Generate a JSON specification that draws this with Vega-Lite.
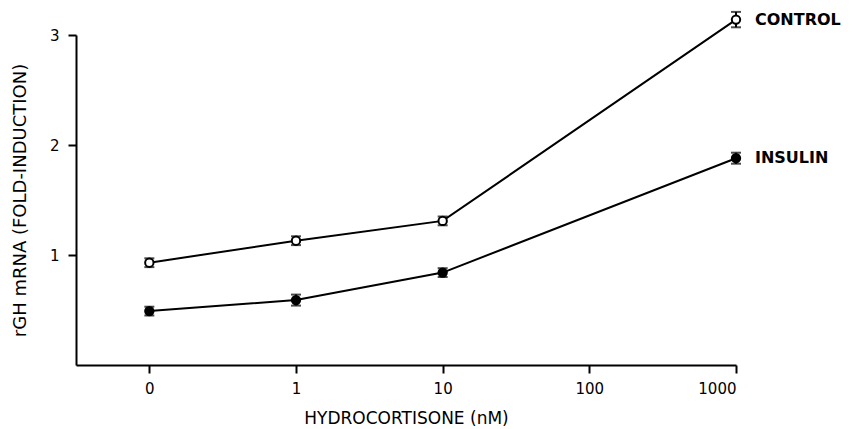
{
  "$schema": "https://vega.github.io/schema/vega-lite/v6.json",
  "width": 660,
  "height": 330,
  "autosize": {"type": "none"},
  "padding": {"left": 76, "top": 35, "right": 125, "bottom": 64},
  "background": "white",
  "config": {
    "view": {"stroke": null},
    "font": "DejaVu Sans",
    "axis": {
      "grid": false,
      "domainColor": "black",
      "domainWidth": 2,
      "tickColor": "black",
      "tickWidth": 2,
      "tickSize": 8,
      "labelColor": "black",
      "labelFont": "DejaVu Sans",
      "labelFontSize": 15,
      "titleColor": "black",
      "titleFont": "DejaVu Sans",
      "titleFontSize": 17,
      "titleFontWeight": "normal"
    }
  },
  "data": {
    "values": [
      {"group": "CONTROL", "idx": 0, "v": 0.93, "lo": 0.89, "hi": 0.97},
      {"group": "CONTROL", "idx": 1, "v": 1.13, "lo": 1.09, "hi": 1.17},
      {"group": "CONTROL", "idx": 2, "v": 1.31, "lo": 1.27, "hi": 1.35},
      {"group": "CONTROL", "idx": 4, "v": 3.14, "lo": 3.07, "hi": 3.21},
      {"group": "INSULIN", "idx": 0, "v": 0.49, "lo": 0.45, "hi": 0.53},
      {"group": "INSULIN", "idx": 1, "v": 0.59, "lo": 0.54, "hi": 0.64},
      {"group": "INSULIN", "idx": 2, "v": 0.84, "lo": 0.80, "hi": 0.88},
      {"group": "INSULIN", "idx": 4, "v": 1.88, "lo": 1.83, "hi": 1.93}
    ]
  },
  "encoding": {
    "x": {
      "field": "idx",
      "type": "quantitative",
      "scale": {"domain": [-0.5, 4], "nice": false, "zero": false},
      "axis": {
        "title": "HYDROCORTISONE (nM)",
        "values": [0, 1, 2, 3, 4],
        "labelExpr": "datum.value == 0 ? '0' : format(pow(10, datum.value - 1), 'd')",
        "labelPadding": 8,
        "titlePadding": 14
      }
    }
  },
  "layer": [
    {
      "mark": {"type": "rule", "color": "black", "strokeWidth": 2},
      "encoding": {
        "y": {"field": "lo", "type": "quantitative", "scale": {"domain": [0, 3], "nice": false}, "axis": {"title": "rGH mRNA (FOLD-INDUCTION)", "values": [1, 2, 3], "format": "d", "labelPadding": 9, "titlePadding": 20, "titleFontSize": 18}},
        "y2": {"field": "hi"}
      }
    },
    {
      "mark": {"type": "tick", "orient": "horizontal", "color": "black", "size": 10, "thickness": 2},
      "encoding": {"y": {"field": "lo", "type": "quantitative"}}
    },
    {
      "mark": {"type": "tick", "orient": "horizontal", "color": "black", "size": 10, "thickness": 2},
      "encoding": {"y": {"field": "hi", "type": "quantitative"}}
    },
    {
      "mark": {"type": "line", "color": "black", "strokeWidth": 2},
      "encoding": {
        "y": {"field": "v", "type": "quantitative"},
        "detail": {"field": "group"}
      }
    },
    {
      "mark": {"type": "point", "shape": "circle", "size": 70, "strokeWidth": 2, "stroke": "black", "opacity": 1},
      "encoding": {
        "y": {"field": "v", "type": "quantitative"},
        "fill": {
          "field": "group",
          "type": "nominal",
          "scale": {"domain": ["CONTROL", "INSULIN"], "range": ["white", "black"]},
          "legend": null
        }
      }
    },
    {
      "transform": [{"filter": "datum.idx == 4"}],
      "mark": {"type": "text", "align": "left", "baseline": "middle", "dx": 19, "fontSize": 16, "fontWeight": "bold", "font": "DejaVu Sans", "color": "black"},
      "encoding": {
        "y": {"field": "v", "type": "quantitative"},
        "text": {"field": "group"}
      }
    }
  ]
}
